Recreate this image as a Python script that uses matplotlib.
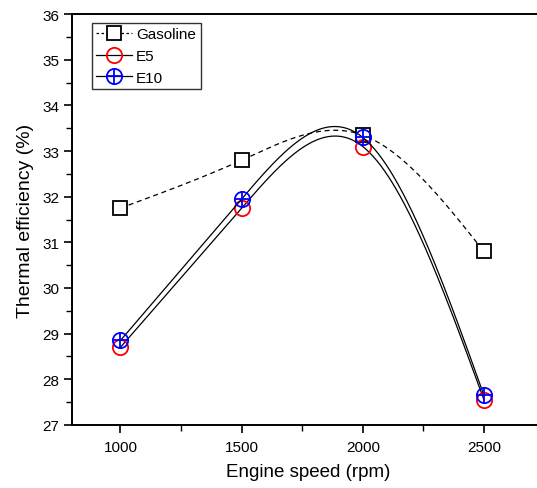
import numpy as np
import matplotlib.pyplot as plt
from matplotlib.ticker import MultipleLocator

plt.rcParams['font.family'] = ['Liberation Sans', 'DejaVu Sans']

speed = [1000, 1500, 2000, 2500]
gasoline = [31.75, 32.8, 33.35, 30.8]
e5 = [28.7, 31.75, 33.1, 27.55]
e10 = [28.85, 31.95, 33.3, 27.65]


def smooth(x, y, n=300):
    # natural cubic spline through the points (like Origin's spline line)
    x = np.asarray(x, float)
    y = np.asarray(y, float)
    k = len(x)
    h = np.diff(x)
    A = np.zeros((k, k))
    b = np.zeros(k)
    A[0, 0] = A[-1, -1] = 1
    for i in range(1, k - 1):
        A[i, i - 1] = h[i - 1]
        A[i, i] = 2 * (h[i - 1] + h[i])
        A[i, i + 1] = h[i]
        b[i] = 6 * ((y[i + 1] - y[i]) / h[i] - (y[i] - y[i - 1]) / h[i - 1])
    M = np.linalg.solve(A, b)
    xs = np.linspace(x[0], x[-1], n)
    idx = np.clip(np.searchsorted(x, xs) - 1, 0, k - 2)
    x0, x1 = x[idx], x[idx + 1]
    hh = x1 - x0
    t0, t1 = x1 - xs, xs - x0
    ys = (M[idx] * t0 ** 3 + M[idx + 1] * t1 ** 3) / (6 * hh) \
        + (y[idx] / hh - M[idx] * hh / 6) * t0 + (y[idx + 1] / hh - M[idx + 1] * hh / 6) * t1
    return xs, ys


fig = plt.figure(figsize=(5.37, 4.89), dpi=100)
ax = fig.add_axes([0.134, 0.129, 0.88, 0.840])

xs, ys = smooth(speed, gasoline)
ax.plot(xs, ys, color='black', lw=0.9, ls=(0, (4, 3)))
ax.plot(speed, gasoline, ls='none', marker='s', ms=10, mfc='white', mec='black', mew=1.3)

xs, ys = smooth(speed, e5)
ax.plot(xs, ys, color='black', lw=0.9)
ax.plot(speed, e5, ls='none', marker='o', ms=11, mfc='none', mec='red', mew=1.3)

xs, ys = smooth(speed, e10)
ax.plot(xs, ys, color='black', lw=0.9)
ax.plot(speed, e10, ls='none', marker='o', ms=11, mfc='none', mec='blue', mew=1.3)
ax.plot(speed, e10, ls='none', marker='+', ms=11, mec='blue', mew=1.3)

# legend handles
h_gas = plt.Line2D([], [], color='black', lw=0.9, ls=(0, (2, 2)), marker='s', ms=10,
                   mfc='white', mec='black', mew=1.3)
h_e5 = plt.Line2D([], [], color='black', lw=0.9, marker='o', ms=11,
                  mfc='none', mec='red', mew=1.3)
h_e10a = plt.Line2D([], [], color='black', lw=0.9, marker='o', ms=11,
                    mfc='none', mec='blue', mew=1.3)
h_e10b = plt.Line2D([], [], ls='none', marker='+', ms=11, mec='blue', mew=1.3)
leg = ax.legend([h_gas, h_e5, (h_e10a, h_e10b)], ['Gasoline', 'E5', 'E10'],
                loc='upper left', bbox_to_anchor=(0.042, 0.979), fontsize=11,
                handlelength=2.3, handletextpad=0.3, borderpad=0.3,
                labelspacing=0.5, borderaxespad=0, fancybox=False, framealpha=1)
leg.get_frame().set_edgecolor('#333333')
leg.get_frame().set_linewidth(1.0)

ax.set_xlim(800, 2750)
ax.set_ylim(27, 36)
ax.xaxis.set_major_locator(MultipleLocator(500))
ax.xaxis.set_minor_locator(MultipleLocator(250))
ax.yaxis.set_major_locator(MultipleLocator(1))
ax.yaxis.set_minor_locator(MultipleLocator(0.5))
ax.tick_params(which='major', direction='out', length=6, width=1.2, labelsize=11)
ax.tick_params(which='minor', direction='out', length=4, width=1.0)
ax.tick_params(axis='x', pad=5)
ax.tick_params(axis='y', pad=3)

for side in ['left', 'bottom', 'top']:
    ax.spines[side].set_linewidth(1.4)
ax.spines['right'].set_visible(False)

ax.set_xlabel('Engine speed (rpm)', fontsize=13.5, labelpad=6)
ax.set_ylabel('Thermal efficiency (%)', fontsize=14, labelpad=6)

fig.savefig('out.png', dpi=100)
